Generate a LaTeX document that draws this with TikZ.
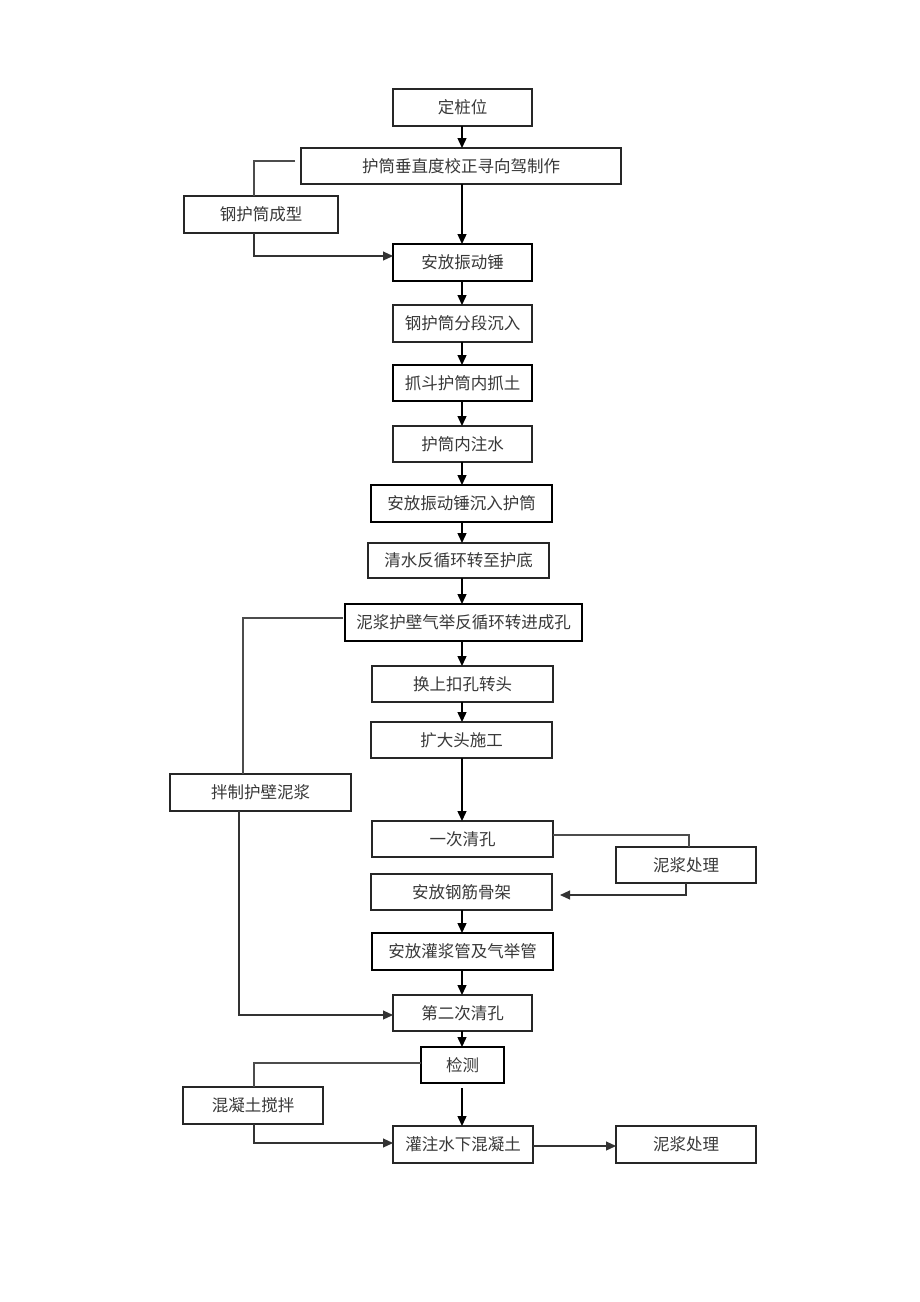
\documentclass[tikz,border=0pt]{standalone}
\usepackage{fontspec}
\newfontfamily\cjk{Noto Sans CJK SC}
\usetikzlibrary{arrows.meta}
\begin{document}
\begin{tikzpicture}[x=1pt,y=-1pt,
  box/.style={draw=black!85,line width=1.1pt,outer sep=0pt,inner sep=0pt,font=\cjk\fontsize{16.5}{18}\selectfont,text=black!78},
  bbox/.style={box,draw=black,line width=1.6pt},
  link/.style={line width=1.1pt,draw=black!70},
  arr/.style={line width=1.4pt,draw=black,-{Triangle[length=10pt,width=9pt]}},
  sarr/.style={link,-{Triangle[length=10pt,width=9pt]},draw=black!80}]
\fill[white] (0,0) rectangle (920,1302);
\useasboundingbox (0,0) rectangle (920,1302);
% helper: node from box edges
\newcommand{\bx}[7]{\node[#1,minimum width={#4-#3},minimum height={#6-#5}] (#2) at ({(#3+#4)/2},{(#5+#6)/2}) {#7};}
\bx{box}{n1}{393}{532}{89}{126}{定桩位}
\bx{box}{n2}{301}{621}{148}{184}{护筒垂直度校正寻向驾制作}
\bx{box}{n3}{184}{338}{196}{233}{钢护筒成型}
\bx{bbox}{n4}{393}{532}{244}{281}{安放振动锤}
\bx{box}{n5}{393}{532}{305}{342}{钢护筒分段沉入}
\bx{bbox}{n6}{393}{532}{365}{401}{抓斗护筒内抓土}
\bx{box}{n7}{393}{532}{426}{462}{护筒内注水}
\bx{bbox}{n8}{371}{552}{485}{522}{安放振动锤沉入护筒}
\bx{box}{n9}{368}{549}{543}{578}{清水反循环转至护底}
\bx{bbox}{n10}{345}{582}{604}{641}{泥浆护壁气举反循环转进成孔}
\bx{box}{n11}{372}{553}{666}{702}{换上扣孔转头}
\bx{box}{n12}{371}{552}{722}{758}{扩大头施工}
\bx{box}{n13}{170}{351}{774}{811}{拌制护壁泥浆}
\bx{box}{n14}{372}{553}{821}{857}{一次清孔}
\bx{box}{n15}{616}{756}{847}{883}{泥浆处理}
\bx{box}{n16}{371}{552}{874}{910}{安放钢筋骨架}
\bx{bbox}{n17}{372}{553}{933}{970}{安放灌浆管及气举管}
\bx{box}{n18}{393}{532}{995}{1031}{第二次清孔}
\bx{bbox}{n19}{421}{504}{1047}{1083}{检测}
\bx{box}{n20}{183}{323}{1087}{1124}{混凝土搅拌}
\bx{box}{n21}{393}{533}{1126}{1163}{灌注水下混凝土}
\bx{box}{n22}{616}{756}{1126}{1163}{泥浆处理}
% main spine
\coordinate (sx) at (462,0);
\draw[arr] (n1.south -| sx) -- (n2.north -| sx);
\draw[arr] (n2.south -| sx) -- (n4.north -| sx);
\draw[arr] (n4.south -| sx) -- (n5.north -| sx);
\draw[arr] (n5.south -| sx) -- (n6.north -| sx);
\draw[arr] (n6.south -| sx) -- (n7.north -| sx);
\draw[arr] (n7.south -| sx) -- (n8.north -| sx);
\draw[arr] (n8.south -| sx) -- (n9.north -| sx);
\draw[arr] (n9.south -| sx) -- (n10.north -| sx);
\draw[arr] (n10.south -| sx) -- (n11.north -| sx);
\draw[arr] (n11.south -| sx) -- (n12.north -| sx);
\draw[arr] (n12.south -| sx) -- (n14.north -| sx);
\draw[arr] (n16.south -| sx) -- (n17.north -| sx);
\draw[arr] (n17.south -| sx) -- (n18.north -| sx);
\draw[arr] (n18.south -| sx) -- (n19.north -| sx);
\draw[arr] ([yshift=-5pt]n19.south -| sx) -- (n21.north -| sx);
% side branches
\coordinate (a1) at (254,161);
\draw[link] ([xshift=-6pt]n2.west |- a1) -- (a1) -- (a1 |- n3.north);
\coordinate (a2) at (254,256);
\draw[sarr] (a2 |- n3.south) -- (a2) -- (n4.west |- a2);
\coordinate (b1) at (243,618);
\draw[link] ([xshift=-2pt]n10.west |- b1) -- (b1) -- (b1 |- n13.north);
\coordinate (b2) at (239,1015);
\draw[sarr] (b2 |- n13.south) -- (b2) -- (n18.west |- b2);
\coordinate (c1) at (689,835);
\draw[link] (n14.east |- c1) -- (c1) -- (c1 |- n15.north);
\coordinate (c2) at (686,895);
\draw[sarr] (c2 |- n15.south) -- (c2) -- ([xshift=8pt]n16.east |- c2);
\coordinate (d1) at (254,1063);
\draw[link] (n19.west |- d1) -- (d1) -- (d1 |- n20.north);
\coordinate (d2) at (254,1143);
\draw[sarr] (d2 |- n20.south) -- (d2) -- (n21.west |- d2);
\coordinate (e1) at (0,1146);
\draw[sarr] (n21.east |- e1) -- (n22.west |- e1);
\end{tikzpicture}
\end{document}
